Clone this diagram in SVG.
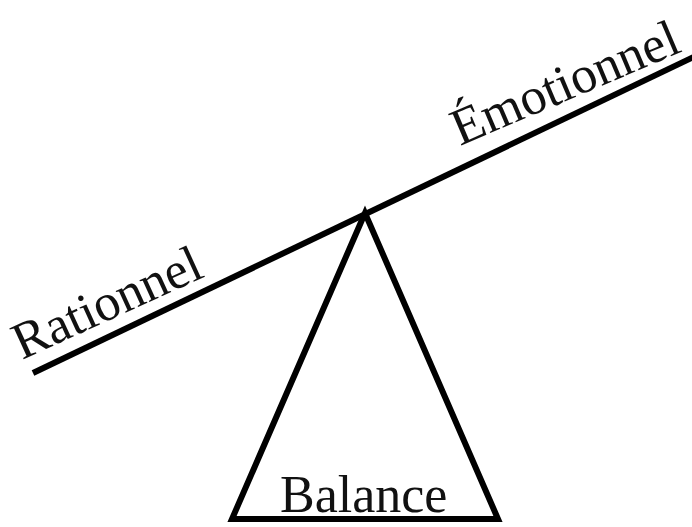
<svg xmlns="http://www.w3.org/2000/svg" width="692" height="527" viewBox="0 0 692 527">
<style>
.lbl{font-family:"Liberation Serif","Times New Roman",serif;font-size:52px;fill:#111}
.stk{stroke:#000;stroke-width:6;fill:none}
</style>
<rect width="692" height="527" fill="#fff"/>
<g id="connectors">
<line id="beam" class="stk" x1="33" y1="373" x2="702" y2="53"/>
</g>
<g id="fulcrum">
<polygon class="stk" points="365,213 232,519 498,519" stroke-linejoin="miter"/>
<text class="lbl" x="280" y="512">Balance</text>
</g>
<g id="rationnel">
<text class="lbl" transform="translate(22,360) rotate(-24.5)">Rationnel</text>
</g>
<g id="emotionnel">
<text class="lbl" transform="translate(460,146) rotate(-23)">Émotionnel</text>
</g>
</svg>
